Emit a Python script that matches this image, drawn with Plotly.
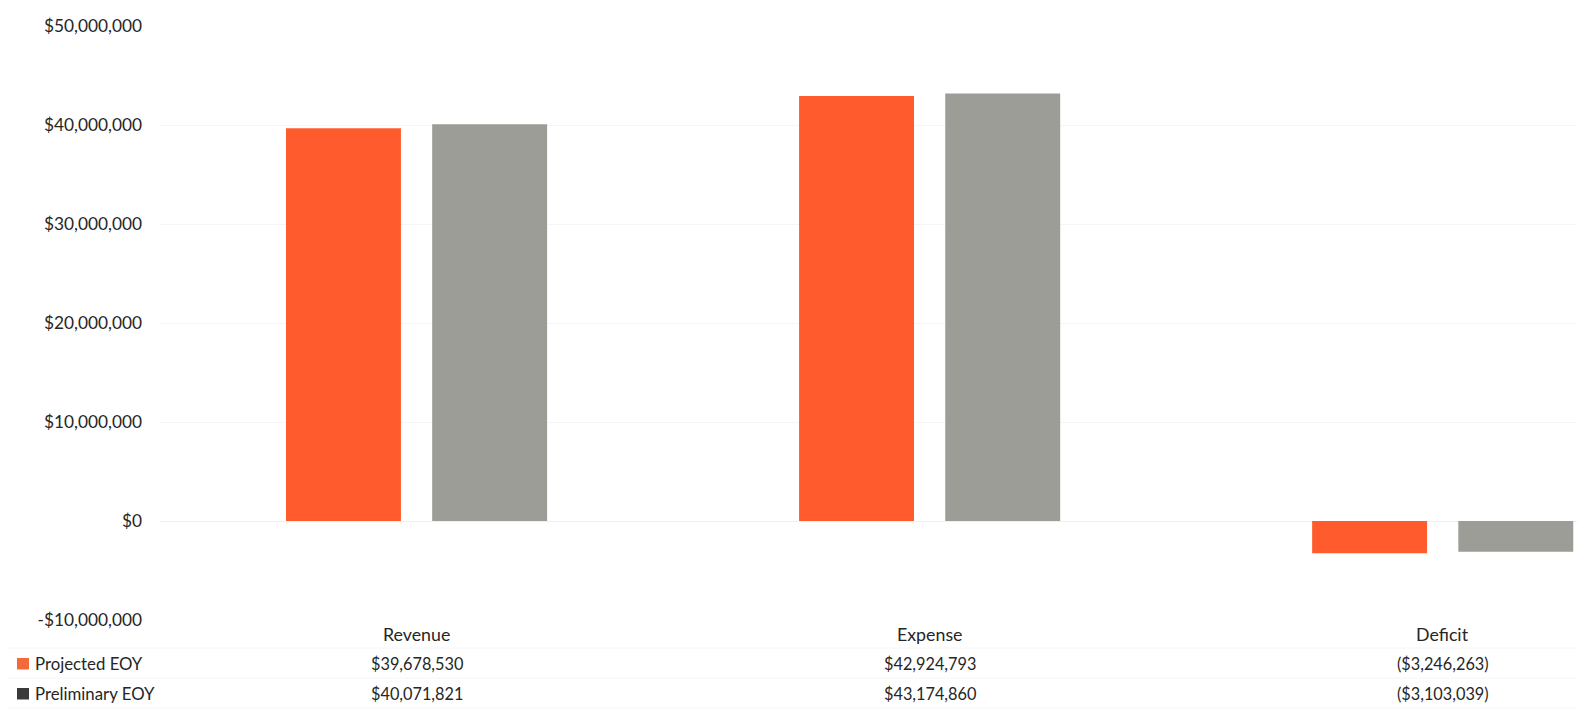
import plotly.graph_objects as go

categories = ["Revenue", "Expense", "Deficit"]
projected = [39678530, 42924793, -3246263]
preliminary = [40071821, 43174860, -3103039]
series_names = ["Projected EOY", "Preliminary EOY"]
y_ticks = [-10000000, 0, 10000000, 20000000, 30000000, 40000000, 50000000]

ORANGE = "#FF5B2C"
GREY = "#9B9D96"
KEY_ORANGE = "#F26A3A"
KEY_GREY = "#3A3A3A"
TEXT = "#262626"
FONT = "Lato"

W, H = 1585, 710
ML, MT, MB = 152, 18, 98
plot_w = W - ML
plot_h = H - MT - MB

ROW_HEADER, ROW_1, ROW_2 = 626, 655, 685


def money(v):
    return f"(${abs(v):,.0f})" if v < 0 else f"${v:,.0f}"


def tick_fmt(v):
    return f"-${abs(v):,.0f}" if v < 0 else f"${v:,.0f}"


def py(px):
    return (H - MB - px) / plot_h


def px_to_paper_x(px):
    return (px - ML) / plot_w


fig = go.Figure()
fig.add_trace(go.Bar(x=list(range(len(categories))), y=projected, name=series_names[0],
                     marker=dict(color=ORANGE, line=dict(width=0)),
                     width=0.224, offset=-0.2544))
fig.add_trace(go.Bar(x=list(range(len(categories))), y=preliminary, name=series_names[1],
                     marker=dict(color=GREY, line=dict(width=0)),
                     width=0.224, offset=0.0305))

annotations = []
for i, c in enumerate(categories):
    annotations.append(dict(x=i, y=py(ROW_HEADER), xref="x", yref="paper", text=c, showarrow=False,
                            font=dict(family=FONT, size=17.8, color=TEXT), xanchor="center", yanchor="middle"))
    annotations.append(dict(x=i, y=py(ROW_1), xref="x", yref="paper", text=money(projected[i]), showarrow=False,
                            font=dict(family=FONT, size=16.3, color=TEXT), xanchor="center", yanchor="middle"))
    annotations.append(dict(x=i, y=py(ROW_2), xref="x", yref="paper", text=money(preliminary[i]), showarrow=False,
                            font=dict(family=FONT, size=16.3, color=TEXT), xanchor="center", yanchor="middle"))

shapes = []
for name, col, ypx in [(series_names[0], KEY_ORANGE, ROW_1), (series_names[1], KEY_GREY, ROW_2)]:
    annotations.append(dict(x=px_to_paper_x(25), y=py(ypx), xref="paper", yref="paper",
                            text=name, showarrow=False,
                            font=dict(family=FONT, size=16.8, color=TEXT), xanchor="left", yanchor="middle"))
    shapes.append(dict(type="rect", xref="paper", yref="paper",
                       x0=px_to_paper_x(9), x1=px_to_paper_x(21),
                       y0=py(ypx + 6.5), y1=py(ypx - 5), line=dict(width=0), fillcolor=col))

for ypx in [640, 670, 700]:
    shapes.append(dict(type="line", xref="paper", yref="paper", x0=px_to_paper_x(0), x1=1,
                       y0=py(ypx), y1=py(ypx), line=dict(color="#F6F6F6", width=1)))

fig.update_layout(
    width=W, height=H,
    margin=dict(l=ML, r=0, t=MT, b=MB),
    paper_bgcolor="white", plot_bgcolor="white",
    showlegend=False,
    annotations=annotations,
    shapes=shapes,
    xaxis=dict(range=[-0.5, 2.293], showticklabels=False, showgrid=False, zeroline=False,
               showline=False, fixedrange=True, automargin=False),
    yaxis=dict(range=[-10000000, 50000000], tickvals=y_ticks, ticktext=[tick_fmt(v) for v in y_ticks],
               tickfont=dict(family=FONT, size=17.3, color=TEXT), showgrid=True, gridcolor="#F5F5F5",
               gridwidth=1, zeroline=True, zerolinecolor="#F0F0F0", zerolinewidth=1, ticks="",
               ticklabelstandoff=17, showline=False, automargin=False),
    font=dict(family=FONT),
)

fig.write_html("out.html")
